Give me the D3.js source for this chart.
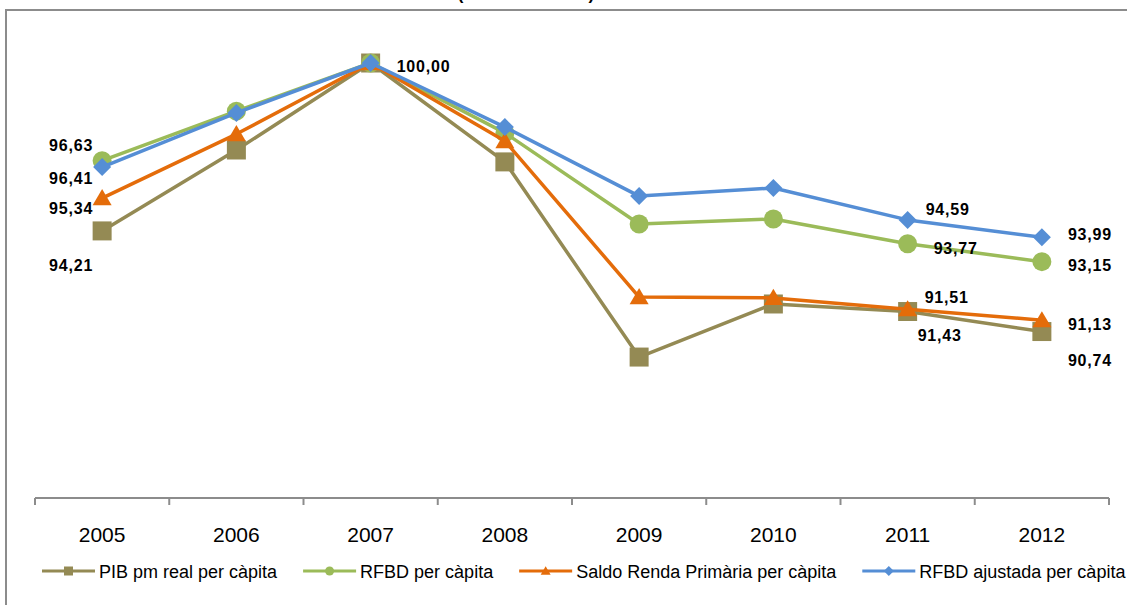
<!DOCTYPE html>
<html>
<head>
<meta charset="utf-8">
<script src="https://cdn.jsdelivr.net/npm/d3@7"></script>
<style>
  body { margin: 0; background: #fff; }
  svg { display: block; font-family: "Liberation Sans", Arial, sans-serif; }
</style>
</head>
<body>
<div class="chart"></div>
<script>
// Chart data
var years = ["2005", "2006", "2007", "2008", "2009", "2010", "2011", "2012"];
var pib = [94.21, 97.00, 100.00, 96.59, 89.86, 91.69, 91.43, 90.74];
var rfbd = [96.63, 98.34, 100.00, 97.59, 94.45, 94.62, 93.77, 93.15];
var saldo = [95.34, 97.55, 100.00, 97.31, 91.93, 91.90, 91.51, 91.13];
var rfbdAjust = [96.41, 98.28, 100.00, 97.79, 95.41, 95.69, 94.59, 93.99];
var seriesNames = ["PIB pm real per càpita", "RFBD per càpita", "Saldo Renda Primària per càpita", "RFBD ajustada per càpita"];
var titleText = "(Índex 2007=100)";

// Which points carry a value label: [series, year index, dx, dy, anchor]
var labelSpots = [
  [1, 0, -9, -10, "end"], [3, 0, -9, 17, "end"], [2, 0, -9, 16, "end"], [0, 0, -9, 40, "end"],
  [3, 2, 26, 9, "start"],
  [3, 6, 18, -5, "start"], [1, 6, 26, 10, "start"], [2, 6, 17, -6, "start"], [0, 6, 10, 29, "start"],
  [3, 7, 26, 3, "start"], [1, 7, 26, 9, "start"], [2, 7, 26, 10, "start"], [0, 7, 26, 34, "start"]
];

var width = 1127;
var height = 605;

var svg = d3.select(".chart")
  .append("svg")
  .attr("width", width)
  .attr("height", height);

// Chart area border
svg.append("rect")
  .attr("x", 6)
  .attr("y", 10)
  .attr("width", 1300)
  .attr("height", 800)
  .attr("fill", "none")
  .attr("stroke", "#8c8c8c")
  .attr("stroke-width", 2);

// Title (mostly cut off at the top)
svg.append("text")
  .attr("x", 526)
  .attr("y", 0)
  .attr("text-anchor", "middle")
  .style("font-size", "17px")
  .style("font-weight", "bold")
  .text(titleText);

var x = d3.scaleBand()
  .domain(years)
  .range([35, 1109]);

var y = d3.scaleLinear()
  .domain([85, 100])
  .range([498, 63]);

// X axis
var xAxis = svg.append("g")
  .attr("transform", "translate(0,498)");

xAxis.append("line")
  .attr("x1", x.range()[0])
  .attr("x2", x.range()[1])
  .attr("stroke", "#8c8c8c")
  .attr("stroke-width", 2);

var tickPos = years.map(function (d) { return x(d); }).concat([x.range()[1]]);
xAxis.selectAll(".tick-mark")
  .data(tickPos)
  .enter().append("line")
  .attr("class", "tick-mark")
  .attr("x1", function (d) { return d; })
  .attr("x2", function (d) { return d; })
  .attr("y1", 0)
  .attr("y2", 7)
  .attr("stroke", "#8c8c8c")
  .attr("stroke-width", 2);

xAxis.selectAll(".year")
  .data(years)
  .enter().append("text")
  .attr("class", "year")
  .attr("x", function (d) { return x(d) + x.bandwidth() / 2; })
  .attr("y", 44)
  .attr("text-anchor", "middle")
  .style("font-size", "21px")
  .attr("fill", "#000")
  .text(function (d) { return d; });

// Marker shapes
function markerPath(shape, s) {
  var h = s / 2;
  if (shape === "square") return "M" + -h + "," + -h + "H" + h + "V" + h + "H" + -h + "Z";
  if (shape === "circle") return "M" + h + ",0A" + h + "," + h + " 0 1,1 " + -h + ",0A" + h + "," + h + " 0 1,1 " + h + ",0Z";
  if (shape === "triangle") return "M0," + (-h * 0.95) + "L" + h + "," + (h * 0.75) + "L" + -h + "," + (h * 0.75) + "Z";
  return "M0," + -h + "L" + h + ",0L0," + h + "L" + -h + ",0Z";
}

var series = [
  { name: seriesNames[0], values: pib, color: "#948a54", shape: "square", size: 19, legendSize: 9 },
  { name: seriesNames[1], values: rfbd, color: "#9bbb59", shape: "circle", size: 19, legendSize: 9 },
  { name: seriesNames[2], values: saldo, color: "#e46c0a", shape: "triangle", size: 19, legendSize: 10 },
  { name: seriesNames[3], values: rfbdAjust, color: "#558ed5", shape: "diamond", size: 18, legendSize: 10 }
];

var line = d3.line()
  .x(function (d, i) { return x(years[i]) + x.bandwidth() / 2; })
  .y(function (d) { return y(d); });

series.forEach(function (s) {
  var g = svg.append("g");
  g.append("path")
    .attr("d", line(s.values))
    .attr("fill", "none")
    .attr("stroke", s.color)
    .attr("stroke-width", 3.5)
    .attr("stroke-linejoin", "round");
  g.selectAll("path.marker")
    .data(s.values)
    .enter().append("path")
    .attr("class", "marker")
    .attr("d", markerPath(s.shape, s.size))
    .attr("transform", function (d, i) {
      return "translate(" + (x(years[i]) + x.bandwidth() / 2) + "," + y(d) + ")";
    })
    .attr("fill", s.color);
});

// Value labels
var fmt = function (v) { return v.toFixed(2).replace(".", ","); };
svg.selectAll(".value-label")
  .data(labelSpots)
  .enter().append("text")
  .attr("class", "value-label")
  .attr("x", function (d) { return x(years[d[1]]) + x.bandwidth() / 2 + d[2]; })
  .attr("y", function (d) { return y(series[d[0]].values[d[1]]) + d[3]; })
  .attr("text-anchor", function (d) { return d[4]; })
  .style("font-size", "16px")
  .style("font-weight", "bold")
  .style("letter-spacing", "0.8px")
  .attr("fill", "#000")
  .text(function (d) { return fmt(series[d[0]].values[d[1]]); });

// Legend
var legend = svg.append("g")
  .attr("transform", "translate(0,571)");
var lx = 42;
series.forEach(function (s) {
  var item = legend.append("g").attr("transform", "translate(" + lx + ",0)");
  item.append("line")
    .attr("x1", 0)
    .attr("x2", 53)
    .attr("stroke", s.color)
    .attr("stroke-width", 3);
  item.append("path")
    .attr("d", markerPath(s.shape, s.legendSize))
    .attr("transform", "translate(26.5,0)")
    .attr("fill", s.color);
  var t = item.append("text")
    .attr("x", 57)
    .attr("y", 6.5)
    .style("font-size", "18px")
    .attr("fill", "#000")
    .text(s.name);
  lx += 57 + t.node().getComputedTextLength() + 26;
});
</script>
</body>
</html>
